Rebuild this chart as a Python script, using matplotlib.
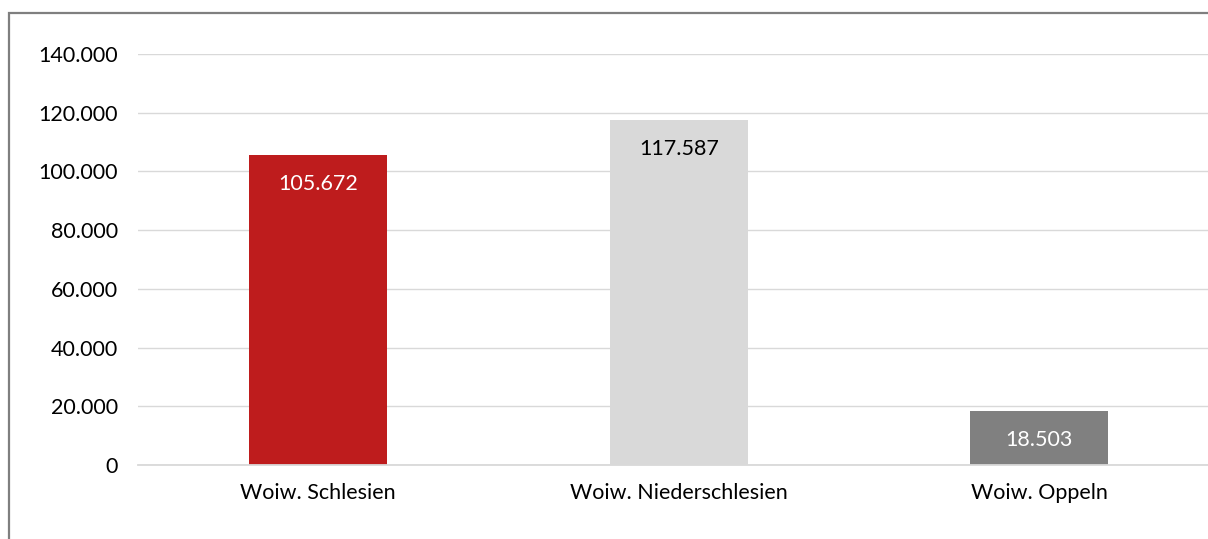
import matplotlib.pyplot as plt
from matplotlib.patches import Rectangle

plt.rcParams['font.family'] = ['Lato', 'DejaVu Sans']

regionen = ['Woiw. Schlesien', 'Woiw. Niederschlesien', 'Woiw. Oppeln']
werte = [105672, 117587, 18503]
farben = ['#BE1C1D', '#D9D9D9', '#808080']
label_farben = ['white', 'black', 'white']
y_ticks = [0, 20000, 40000, 60000, 80000, 100000, 120000, 140000]


def fmt(v):
    return f'{v:,.0f}'.replace(',', '.')


fig = plt.figure(figsize=(12.08, 5.39), dpi=100)
W, H = 1208, 539

# Rahmen des Diagramms (rechts und unten abgeschnitten)
fig.patches.append(Rectangle((9 / W, -0.1), 1.2, 1 - 13 / H + 0.1,
                             transform=fig.transFigure, fill=False,
                             edgecolor='#7F7F7F', linewidth=1.6))

left, right = 138, 1219.5
top, bottom = 54, 465
ax = fig.add_axes([left / W, 1 - bottom / H, (right - left) / W, (bottom - top) / H])

x = range(len(regionen))
bars = ax.bar(x, werte, width=0.383, color=farben, zorder=2)

fs = 15.5
ax.set_xlim(-0.5, 2.5)
ax.set_ylim(0, 140000)
ax.set_yticks(y_ticks)
ax.set_yticklabels([fmt(v) for v in y_ticks], fontsize=fs)
ax.set_xticks(list(x))
ax.set_xticklabels(regionen, fontsize=fs)
ax.tick_params(axis='both', length=0, colors='black')
ax.tick_params(axis='y', pad=14.5)
ax.tick_params(axis='x', pad=13)
ax.yaxis.grid(True, color='#D9D9D9', linewidth=1, zorder=0)
for s in ['top', 'right', 'left']:
    ax.spines[s].set_visible(False)
ax.spines['bottom'].set_color('#D9D9D9')
ax.spines['bottom'].set_linewidth(1.3)

for b, v, c in zip(bars, werte, label_farben):
    ax.annotate(fmt(v), (b.get_x() + b.get_width() / 2, v), xytext=(0, -21),
                textcoords='offset points', ha='center', va='center',
                fontsize=fs, color=c)

plt.savefig('out.png', dpi=100)
